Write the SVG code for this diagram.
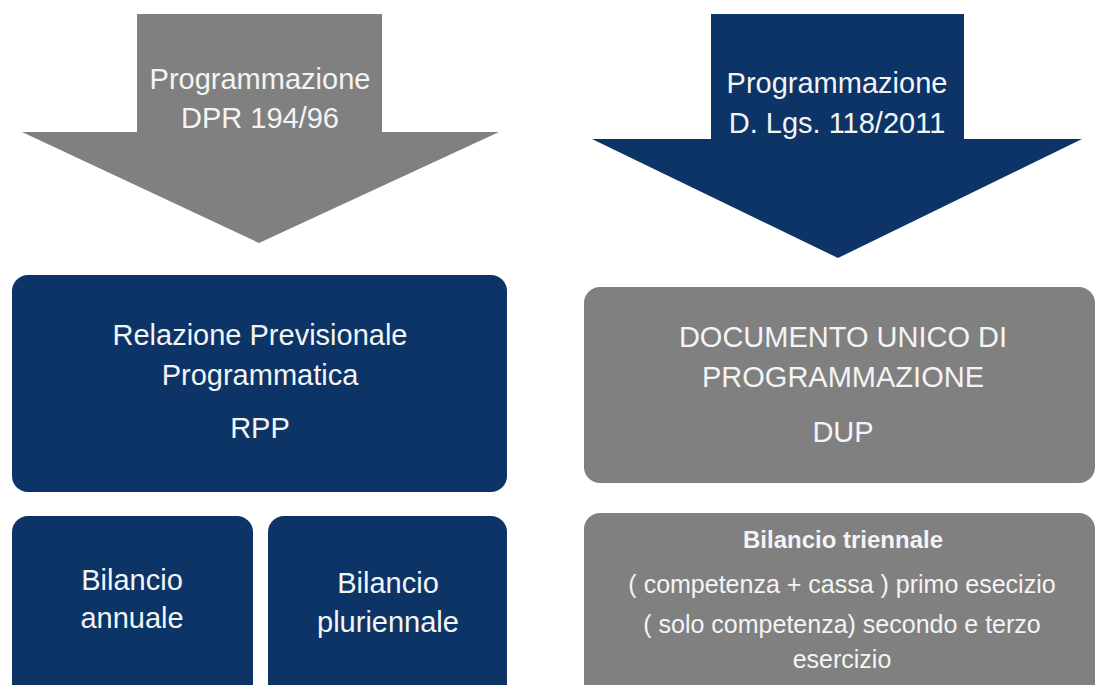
<svg xmlns="http://www.w3.org/2000/svg" width="1110" height="685" viewBox="0 0 1110 685">
<style>
.navy{fill:#0c3466}
.gray{fill:#808080}
text{font-family:"Liberation Sans",Arial,sans-serif;fill:#f4f4f4;text-anchor:middle}
.big{font-size:29px}
.mid{font-size:25px}
.bold{font-size:24px;font-weight:bold}
</style>
<rect width="1110" height="685" fill="#ffffff"/>
<g id="arrow-dpr">
<polygon class="gray" points="137,14 382,14 382,132 499,132 259,243 22,132 137,132"/>
<text class="big" x="260" y="89">Programmazione</text>
<text class="big" x="260" y="128">DPR 194/96</text>
</g>
<g id="arrow-dlgs">
<polygon class="navy" points="711,14 964,14 964,139 1082,139 838,258 592,139 711,139"/>
<text class="big" x="837" y="93">Programmazione</text>
<text class="big" x="837" y="133">D. Lgs. 118/2011</text>
</g>
<g id="rpp">
<rect class="navy" x="12" y="275" width="495" height="217" rx="16"/>
<text class="big" x="260" y="345">Relazione Previsionale</text>
<text class="big" x="260" y="385">Programmatica</text>
<text class="big" x="260" y="438">RPP</text>
</g>
<g id="bilancio-annuale">
<rect class="navy" x="12" y="516" width="241" height="185" rx="16"/>
<text class="big" x="132" y="590">Bilancio</text>
<text class="big" x="132" y="628">annuale</text>
</g>
<g id="bilancio-pluriennale">
<rect class="navy" x="268" y="516" width="239" height="185" rx="16"/>
<text class="big" x="388" y="593">Bilancio</text>
<text class="big" x="388" y="632">pluriennale</text>
</g>
<g id="dup">
<rect class="gray" x="584" y="287" width="511" height="196" rx="16"/>
<text class="big" x="843" y="347">DOCUMENTO UNICO DI</text>
<text class="big" x="843" y="387">PROGRAMMAZIONE</text>
<text class="big" x="843" y="442">DUP</text>
</g>
<g id="bilancio-triennale">
<rect class="gray" x="584" y="513" width="511" height="190" rx="16"/>
<text class="bold" x="843" y="548">Bilancio triennale</text>
<text class="mid" x="842" y="593">( competenza + cassa ) primo esecizio</text>
<text class="mid" x="842" y="633">( solo competenza) secondo e terzo</text>
<text class="mid" x="842" y="668">esercizio</text>
</g>
<g id="connectors"></g>
</svg>
